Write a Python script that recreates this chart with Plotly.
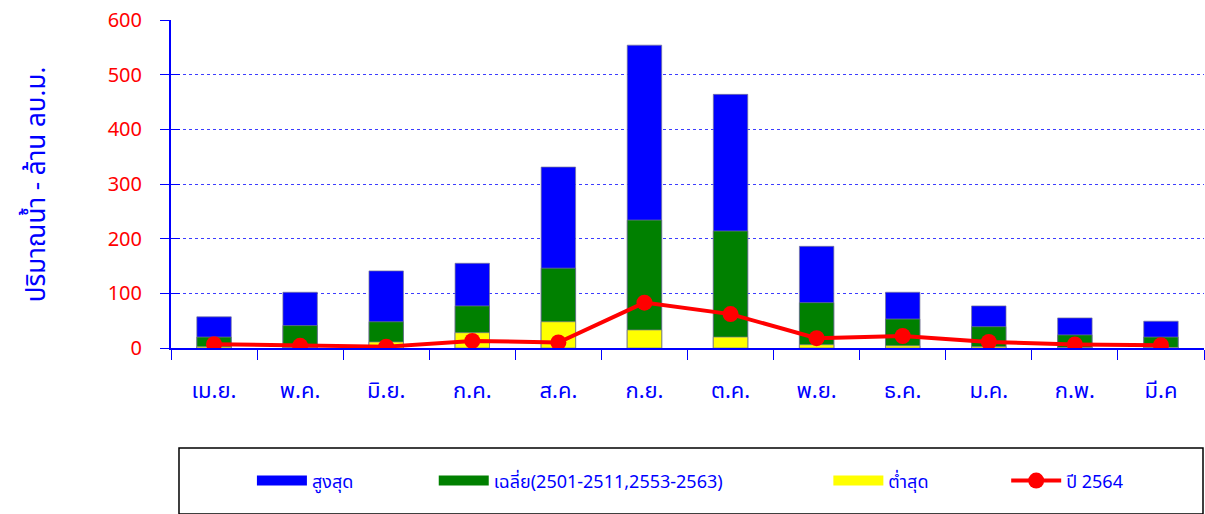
import plotly.graph_objects as go

months = ["เม.ย.", "พ.ค.", "มิ.ย.", "ก.ค.", "ส.ค.", "ก.ย.", "ต.ค.", "พ.ย.", "ธ.ค.", "ม.ค.", "ก.พ.", "มี.ค"]
max_vals = [57, 102, 141, 155, 331, 554, 464, 186, 102, 77, 55, 49]
avg_vals = [20, 41, 48, 77, 146, 234, 214, 83, 53, 39, 24, 20]
min_vals = [2.4, 0.8, 11, 28, 48, 33, 20, 6, 4, 2.5, 1, 1]
y2564 = [7, 4, 2.5, 13, 10, 83, 62, 18, 22, 11, 6.5, 5]

names = ["สูงสุด", "เฉลี่ย(2501-2511,2553-2563)", "ต่ำสุด", "ปี 2564"]
colors = ["#0000FF", "#008000", "#FFFF00", "#FF0000"]

FONT = "Tahoma, 'Noto Sans Thai', 'Leelawadee UI', sans-serif"
BLUE = "#0000FF"

fig = go.Figure()
outline = dict(color="rgba(120,120,150,0.7)", width=1)
for vals, col in zip([max_vals, avg_vals, min_vals], colors[:3]):
    fig.add_trace(go.Bar(x=months, y=vals, marker=dict(color=col, line=outline),
                         width=0.4, showlegend=False))

fig.add_trace(go.Scatter(x=months, y=y2564, mode="lines+markers",
                         line=dict(color="#FF0000", width=4),
                         marker=dict(color="#FF0000", size=16),
                         name=names[3], legend="legend4"))

# legend swatches for bar series
legend_ids = ["legend", "legend2", "legend3"]
for nm, col, lid in zip(names[:3], colors[:3], legend_ids):
    fig.add_trace(go.Scatter(x=[None], y=[None], mode="lines",
                             line=dict(color=col, width=19),
                             name=nm, legend=lid, yaxis="y2"))

leg_common = dict(font=dict(family=FONT, size=18, color=BLUE), bgcolor="rgba(0,0,0,0)",
                  itemwidth=50, yanchor="middle", xanchor="left", y=-0.405)
W = 1034.0
def px2x(p):
    return (p - 171) / W

fig.update_layout(
    width=1205, height=514,
    margin=dict(l=171, r=1, t=20, b=166),
    plot_bgcolor="white", paper_bgcolor="white",
    barmode="overlay",
    font=dict(family=FONT),
    legend=dict(x=px2x(252), **leg_common),
    legend2=dict(x=px2x(434), **leg_common),
    legend3=dict(x=px2x(829), **leg_common),
    legend4=dict(x=px2x(1007), **leg_common),
    xaxis=dict(type="category", showline=True, linecolor=BLUE, linewidth=2,
               ticks="outside", tickson="boundaries", ticklen=10, tickcolor=BLUE, tickwidth=1,
               tickfont=dict(family=FONT, size=22, color=BLUE), ticklabelstandoff=22,
               showgrid=False, range=[-0.5, 11.5]),
    yaxis=dict(range=[0, 600], dtick=100, showline=True, linecolor=BLUE, linewidth=2,
               ticks="outside", ticklen=9, tickcolor=BLUE, tickwidth=1,
               tickfont=dict(family=FONT, size=20, color="#FF0000"), ticklabelstandoff=14,
               showgrid=True, gridcolor="rgba(40,40,255,0.9)", griddash="dot", gridwidth=1,
               zeroline=False),
    yaxis2=dict(range=[0, 600], dtick=100, overlaying="y", side="left", showline=False,
                ticks="inside", ticklen=9, tickcolor=BLUE, tickwidth=1,
                showticklabels=False, showgrid=False, zeroline=False),
    shapes=[dict(type="rect", xref="paper", yref="paper",
                 x0=px2x(179), x1=px2x(1204), y0=(348 - 514) / 328.0, y1=(348 - 448) / 328.0,
                 line=dict(color="black", width=1.5), fillcolor="rgba(0,0,0,0)")],
    annotations=[dict(text="ปริมาณน้ำ - ล้าน ลบ.ม.", xref="paper", yref="paper",
                      x=px2x(37), y=(348 - 184) / 328.0, textangle=-90, showarrow=False,
                      font=dict(family=FONT, size=26, color=BLUE),
                      xanchor="center", yanchor="middle")],
)

fig.write_html("out.html", config={"displayModeBar": False},
               post_script="document.body.style.margin='0';")
